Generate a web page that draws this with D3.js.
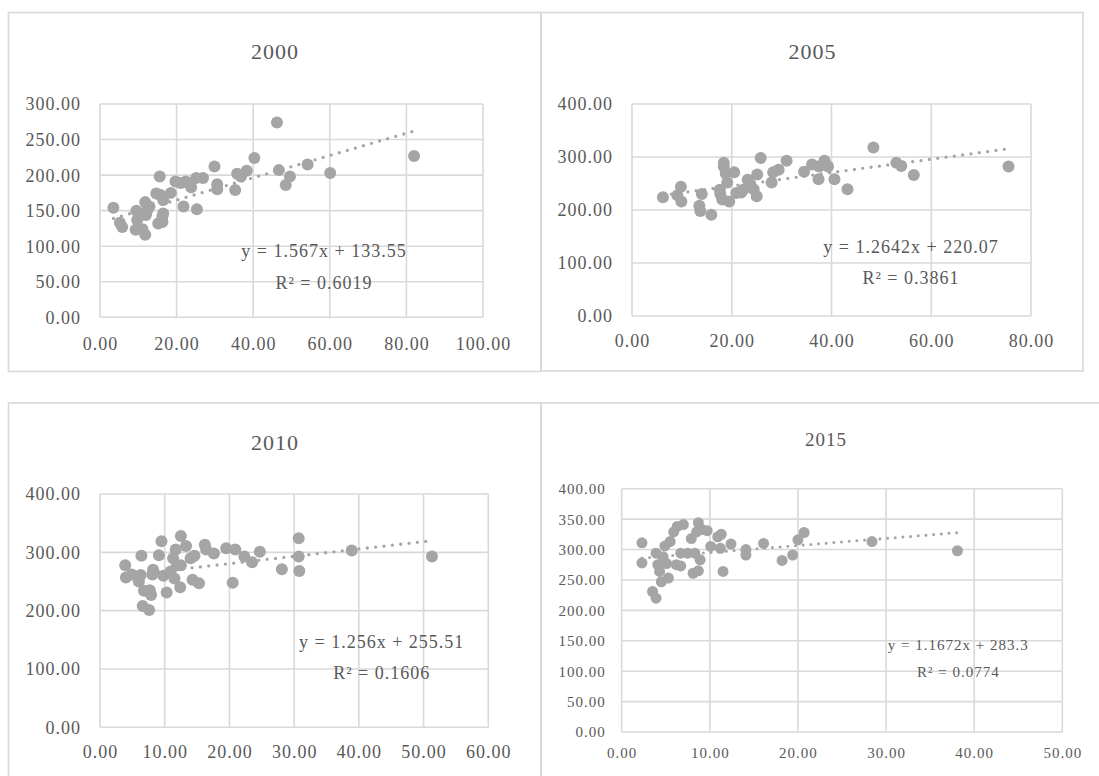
<!DOCTYPE html>
<html>
<head>
<meta charset="utf-8">
<script src="https://cdn.jsdelivr.net/npm/d3@7"></script>
<style>
  body { margin: 0; background: #fff; }
  text { font-family: "Liberation Serif", "DejaVu Serif", serif; fill: #595959; }
</style>
</head>
<body>
<div id="chart"></div>
<script>
// scatter values per year
var x2000 = [3.5,5.2,5.8,9.3,9.5,10.2,9.7,10.6,11.1,11.8,11.8,12.4,12.9,12.0,14.7,15.6,15.8,15.2,16.5,16.3,16.3,16.5,18.5,19.7,21.1,21.8,22.4,23.8,25.1,25.3,26.9,29.9,30.6,30.6,35.3,35.8,36.8,38.3,40.3,46.2,46.7,48.5,49.6,54.2,60.1,82.0];
var y2000 = [154,133,127,123,150,142,137,146,124,116,162,151,156,144,174,198,172,132,165,142,134,146,175,191,189,156,191,183,196,152,196,212,187,180,179,202,198,206,224,274,207,186,198,215,203,227];

var x2005 = [6.2,9.1,9.8,9.9,13.5,13.7,14.0,15.9,17.6,18.1,18.4,18.4,19.1,19.5,20.5,20.9,22.3,23.2,24.4,25.0,25.1,25.8,28.0,28.3,29.4,31.0,34.5,36.1,37.4,37.5,38.6,39.3,40.6,43.2,48.4,53.0,54.0,56.5,75.5,18.8,21.9,23.7,17.7];
var y2005 = [224,228,244,216,208,198,230,191,238,220,289,282,252,216,271,232,238,257,239,226,267,298,252,271,276,293,272,286,258,282,293,282,258,239,318,289,283,266,282,269,233,249,230];

var x2010 = [3.9,4.0,4.9,6.0,6.3,6.4,6.6,6.8,7.6,7.7,7.9,8.1,8.2,9.1,9.5,9.8,10.3,10.9,11.3,11.5,11.7,11.9,12.4,12.5,12.5,13.3,14.0,14.3,14.6,15.3,16.2,16.4,17.6,19.5,20.9,20.5,22.3,23.5,24.7,28.1,30.7,30.7,30.8,38.9,51.3];
var y2010 = [278,257,262,250,261,294,208,234,201,235,227,262,270,295,319,260,231,267,290,255,305,278,240,328,278,311,290,253,294,247,313,305,298,307,305,248,293,283,301,271,324,293,268,303,293];

var x2015 = [2.3,2.3,3.5,3.9,3.9,4.1,4.3,4.5,4.7,4.9,5.1,5.3,5.5,5.9,6.3,6.2,6.7,6.7,7.0,7.5,7.9,8.1,8.3,8.5,8.7,8.7,8.9,9.1,9.7,10.1,10.9,11.2,11.3,11.5,12.4,14.1,14.1,16.1,18.2,19.4,20.0,20.7,28.4,38.1];
var y2015 = [311,278,231,220,294,275,264,247,288,306,277,253,313,329,338,275,273,294,341,294,318,261,294,329,265,344,283,333,331,305,321,302,325,264,309,300,291,310,282,291,316,328,313,298];

// trendline coefficients [slope, intercept, r2]
var fit2000 = [1.567, 133.55, "0.6019"];
var fit2005 = [1.2642, 220.07, "0.3861"];
var fit2010 = [1.256, 255.51, "0.1606"];
var fit2015 = [1.1672, 283.3, "0.0774"];

var grey = "#A5A5A5", gridCol = "#D9D9D9";

var svg = d3.select("#chart").append("svg")
  .attr("width", 1099)
  .attr("height", 776);

svg.append("rect").attr("width", 1099).attr("height", 776).attr("fill", "#fff");

// chart frames
var frames = [[8.5, 12.5, 532.5, 359], [541, 12.5, 542, 358.5], [8.5, 403, 532.5, 400], [541, 403, 600, 400]];
svg.selectAll("rect.frame")
  .data(frames)
  .enter()
  .append("rect")
  .attr("class", "frame")
  .attr("x", function(d) { return d[0]; })
  .attr("y", function(d) { return d[1]; })
  .attr("width", function(d) { return d[2]; })
  .attr("height", function(d) { return d[3]; })
  .attr("fill", "none")
  .attr("stroke", gridCol)
  .attr("stroke-width", 1.6);

function panel(p) {
  var x = d3.scaleLinear().domain([0, p.xmax]).range([p.left, p.right]);
  var y = d3.scaleLinear().domain([0, p.ymax]).range([p.bottom, p.top]);
  var xt = d3.range(0, p.xmax + 0.001, p.xstep);
  var yt = d3.range(0, p.ymax + 0.001, p.ystep);
  var g = svg.append("g");

  // gridlines
  g.selectAll("line.gx").data(xt).enter().append("line")
    .attr("x1", function(d) { return x(d); }).attr("x2", function(d) { return x(d); })
    .attr("y1", p.top).attr("y2", p.bottom)
    .attr("stroke", gridCol).attr("stroke-width", 1.6);
  g.selectAll("line.gy").data(yt).enter().append("line")
    .attr("y1", function(d) { return y(d); }).attr("y2", function(d) { return y(d); })
    .attr("x1", p.left).attr("x2", p.right)
    .attr("stroke", gridCol).attr("stroke-width", 1.6);

  // tick labels
  g.selectAll("text.ty").data(yt).enter().append("text")
    .attr("x", p.left - p.ygap)
    .attr("y", function(d) { return y(d); })
    .attr("dy", "0.36em")
    .attr("text-anchor", "end")
    .style("font-size", p.fs + "px")
    .style("letter-spacing", "1px")
    .text(function(d) { return d3.format(".2f")(d); });
  g.selectAll("text.tx").data(xt).enter().append("text")
    .attr("x", function(d) { return x(d) + 0.5; })
    .attr("y", p.bottom + p.xgap)
    .attr("dy", "0.36em")
    .attr("text-anchor", "middle")
    .style("font-size", p.fs + "px")
    .style("letter-spacing", "1px")
    .text(function(d) { return d3.format(".2f")(d); });

  // title
  g.append("text")
    .attr("x", p.tx).attr("y", p.ty).attr("dy", "0.36em")
    .attr("text-anchor", "middle")
    .style("font-size", p.tfs + "px")
    .style("letter-spacing", "1px")
    .text(p.title);

  // points
  var pts = p.xs.map(function(v, i) { return [v, p.ys[i]]; });
  g.selectAll("circle").data(pts).enter().append("circle")
    .attr("cx", function(d) { return x(d[0]); })
    .attr("cy", function(d) { return y(d[1]); })
    .attr("r", p.r)
    .attr("fill", grey);

  // linear trendline over the data range
  var lo = d3.min(p.xs), hi = d3.max(p.xs);
  g.append("path")
    .datum([lo, hi])
    .attr("fill", "none")
    .attr("stroke", grey)
    .attr("stroke-width", p.r * 0.55)
    .attr("stroke-linecap", "round")
    .attr("stroke-dasharray", "0," + (p.r * 1.4))
    .attr("d", d3.line()
      .x(function(d) { return x(d); })
      .y(function(d) { return y(p.fit[0] * d + p.fit[1]); }));

  // equation label
  var eq = g.append("text")
    .attr("text-anchor", "middle")
    .style("font-size", p.fs + "px")
    .style("letter-spacing", "1px");
  eq.append("tspan").attr("x", p.ex).attr("y", p.ey).attr("dy", "0.36em")
    .text("y = " + p.fit[0] + "x + " + p.fit[1]);
  eq.append("tspan").attr("x", p.ex).attr("y", p.ey + p.el).attr("dy", "0.36em")
    .text("R² = " + p.fit[2]);
}

panel({title: "2000", xs: x2000, ys: y2000, fit: fit2000, xmax: 100, xstep: 20, ymax: 300, ystep: 50,
  left: 100, right: 483, top: 104, bottom: 317.3, fs: 18, tfs: 22, tx: 275, ty: 51.5,
  ygap: 19, xgap: 26, r: 6, ex: 324, ey: 250.7, el: 32});
panel({title: "2005", xs: x2005, ys: y2005, fit: fit2005, xmax: 80, xstep: 20, ymax: 400, ystep: 100,
  left: 632, right: 1031, top: 104, bottom: 316, fs: 18, tfs: 22, tx: 812.5, ty: 51.5,
  ygap: 19, xgap: 25, r: 6, ex: 911, ey: 246.7, el: 31});
panel({title: "2010", xs: x2010, ys: y2010, fit: fit2010, xmax: 60, xstep: 10, ymax: 400, ystep: 100,
  left: 100, right: 488.3, top: 494, bottom: 727.3, fs: 18, tfs: 22, tx: 275, ty: 441.7,
  ygap: 19, xgap: 24.5, r: 6, ex: 381.7, ey: 641.7, el: 31});
panel({title: "2015", xs: x2015, ys: y2015, fit: fit2015, xmax: 50, xstep: 10, ymax: 400, ystep: 50,
  left: 621.7, right: 1062.3, top: 488.7, bottom: 732, fs: 15, tfs: 19, tx: 826, ty: 439.3,
  ygap: 16, xgap: 21, r: 5.5, ex: 958.3, ey: 644.3, el: 27.5});
</script>
</body>
</html>
